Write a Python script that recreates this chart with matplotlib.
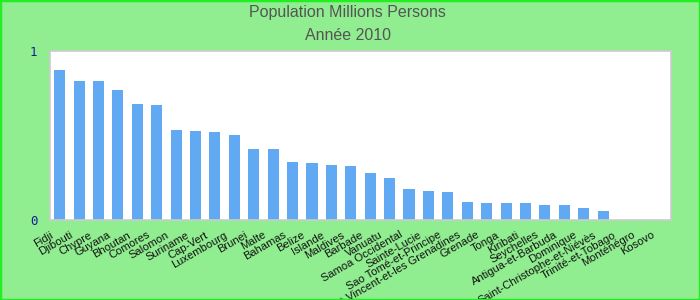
import matplotlib
matplotlib.use("Agg")
import matplotlib.pyplot as plt
from matplotlib.patches import Rectangle
from matplotlib.transforms import ScaledTranslation

countries = ["Fidji", "Djibouti", "Chypre", "Guyana", "Bhoutan", "Comores", "Salomon",
             "Suriname", "Cap-Vert", "Luxembourg", "Brunei", "Malte", "Bahamas", "Belize",
             "Islande", "Maldives", "Barbade", "Vanuatu", "Samoa Occidental", "Sainte-Lucie",
             "Sao Tomé-et-Principe", "Saint-Vincent-et-les Grenadines", "Grenade", "Tonga",
             "Kiribati", "Seychelles", "Antigua-et-Barbuda", "Dominique",
             "Saint-Christophe-et-Niévès", "Trinité-et-Tobago", "Monténégro", "Kosovo"]
population = [0.888, 0.822, 0.822, 0.769, 0.686, 0.680, 0.533,
              0.527, 0.521, 0.503, 0.420, 0.420, 0.343, 0.337,
              0.325, 0.320, 0.278, 0.249, 0.183, 0.172,
              0.166, 0.107, 0.101, 0.101,
              0.101, 0.089, 0.089, 0.071,
              0.053, 0.0, 0.0, 0.0]
yticks = [0, 1]
title1 = "Population Millions Persons"
title2 = "Année 2010"

W, H = 700, 300
fig = plt.figure(figsize=(7, 3), dpi=100, facecolor="#90ee90")
fig.patches.append(Rectangle((0, 0), 1, 1, transform=fig.transFigure, fill=False,
                             edgecolor="#22ee22", linewidth=2.5, zorder=10))

left, right, top, bottom = 50, 671, 51, 220
ax = fig.add_axes([left / W, 1 - bottom / H, (right - left) / W, (bottom - top) / H])
ax.set_facecolor("white")
for s in ax.spines.values():
    s.set_color("#cccccc")
    s.set_linewidth(1.2)

x = list(range(len(countries)))
ax.bar(x, population, width=0.57, color="#61a9f3")
ax.set_xlim(-0.5, len(countries) - 0.5)
ax.set_ylim(0, 1)
ax.set_yticks(yticks)
ax.set_yticklabels([str(v) for v in yticks], family="DejaVu Sans Mono", fontsize=9,
                   color="#1a1aa0")
ax.tick_params(axis="y", length=0, pad=9)
ax.set_xticks(x)
ax.set_xticklabels(countries, rotation=30, ha="right", rotation_mode="anchor",
                   fontsize=8, family="Liberation Sans", color="#111111")
ax.tick_params(axis="x", length=0, pad=7)
offset = ScaledTranslation(-10 / 100, 0, fig.dpi_scale_trans)
for lab in ax.get_xticklabels():
    lab.set_transform(lab.get_transform() + offset)

fig.text(0.497, 1 - 13 / H, title1, ha="center", va="center", fontsize=11.5,
         family="Liberation Sans", color="#555555")
fig.text(0.497, 1 - 36 / H, title2, ha="center", va="center", fontsize=11.5,
         family="Liberation Sans", color="#555555")

fig.savefig("out.png", dpi=100, facecolor=fig.get_facecolor())
